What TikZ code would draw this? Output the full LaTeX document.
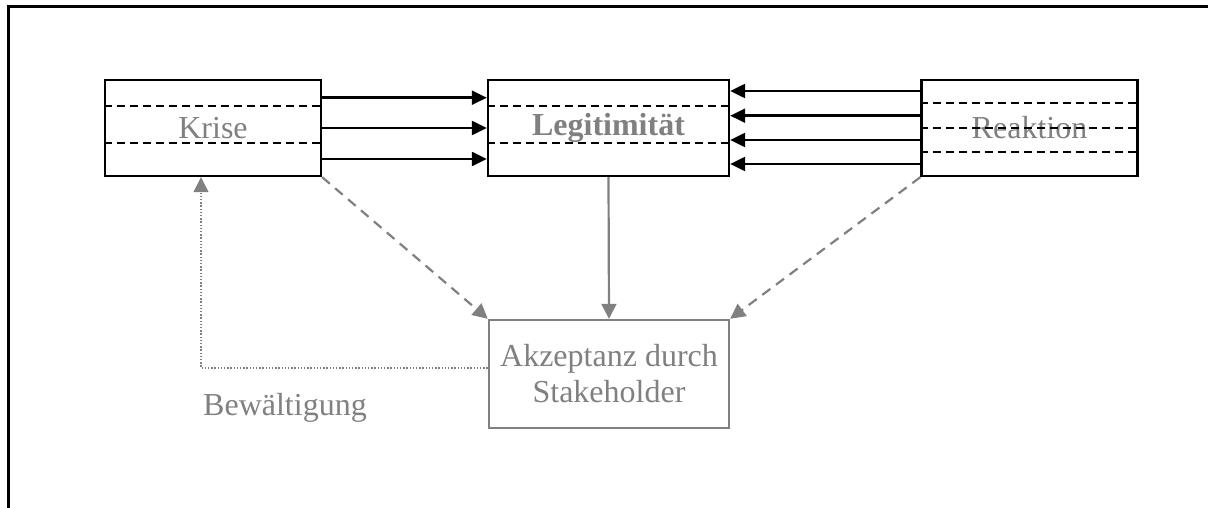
\documentclass[tikz,border=0pt]{standalone}
\usepackage{fontspec}
\setmainfont{Liberation Serif}
\usetikzlibrary{arrows.meta}
\definecolor{txtgray}{HTML}{808080}
\begin{document}
\begin{tikzpicture}[x=1pt,y=-1pt,
  box/.style={draw=black,line width=2.4pt,rectangle,inner sep=0pt,text=txtgray,
    font=\fontsize{32}{36}\selectfont},
  graybox/.style={draw=txtgray,line width=2.4pt,rectangle,inner sep=0pt,text=txtgray,
    font=\fontsize{32}{36}\selectfont,align=center},
  sep/.style={line width=2pt,dash pattern=on 8pt off 5pt},
  arr/.style={line width=2.4pt,-{Triangle[length=15pt,width=14pt]}},
  garr/.style={draw=txtgray,line width=2.2pt,-{Triangle[length=15pt,width=15pt]},color=txtgray},
  gdash/.style={garr,dash pattern=on 10pt off 7pt},
  gdot/.style={draw=txtgray,line width=1.4pt,dash pattern=on 1.4pt off 1.8pt,
    -{Triangle[length=15pt,width=15pt]},color=txtgray}
]
\useasboundingbox (0,0) rectangle (1208,508);
% frame
\draw[line width=2.4pt] (8.5,508) -- (8.5,6.5) -- (1208,6.5);

% boxes
\node[box,minimum width=216pt,minimum height=96pt] (krise) at (213,128) {Krise};
\node[box,minimum width=241pt,minimum height=96pt,font=\fontsize{32}{36}\selectfont\bfseries] (legit) at (608.5,128) {Legitimität};
\node[box,minimum width=216pt,minimum height=96pt] (reak) at (1029.5,128) {Reaktion};
\node[graybox,minimum width=240pt,minimum height=108pt] (akz) at (609,374) {Akzeptanz durch\\Stakeholder};

% dashed separators
\draw[sep] (krise.west |- 0,106) -- (krise.east |- 0,106);
\draw[sep] (krise.west |- 0,143) -- (krise.east |- 0,143);
\draw[sep] (legit.west |- 0,106) -- (legit.east |- 0,106);
\draw[sep] (legit.west |- 0,143) -- (legit.east |- 0,143);
\draw[sep] (reak.west |- 0,102.7) -- (reak.east |- 0,102.7);
\draw[sep] (reak.west |- 0,128.3) -- (reak.east |- 0,128.3);
\draw[sep] (reak.west |- 0,151.7) -- (reak.east |- 0,151.7);

% Krise -> Legitimitaet
\draw[arr] (krise.east |- 0,97.7) -- (legit.west |- 0,97.7);
\draw[arr] (krise.east |- 0,128) -- (legit.west |- 0,128);
\draw[arr] (krise.east |- 0,159) -- (legit.west |- 0,159);

% Reaktion -> Legitimitaet
\draw[arr] (reak.west |- 0,91) -- (legit.east |- 0,91);
\draw[arr] (reak.west |- 0,115.7) -- (legit.east |- 0,115.7);
\draw[arr] (reak.west |- 0,140) -- (legit.east |- 0,140);
\draw[arr] (reak.west |- 0,164) -- (legit.east |- 0,164);

% gray connectors
\draw[garr] (legit.south) -- (akz.north);
\draw[gdash] (krise.south east) -- (akz.north west);
\draw[gdash] (reak.south west) -- (akz.north east);

\coordinate (bend) at (201,368);
\draw[gdot] (akz.west |- bend) -- (bend) -- (bend |- krise.south);

\node[anchor=base west,text=txtgray,inner sep=0pt,font=\fontsize{32}{36}\selectfont] (bew) at (203,415) {Bewältigung};
\end{tikzpicture}
\end{document}
